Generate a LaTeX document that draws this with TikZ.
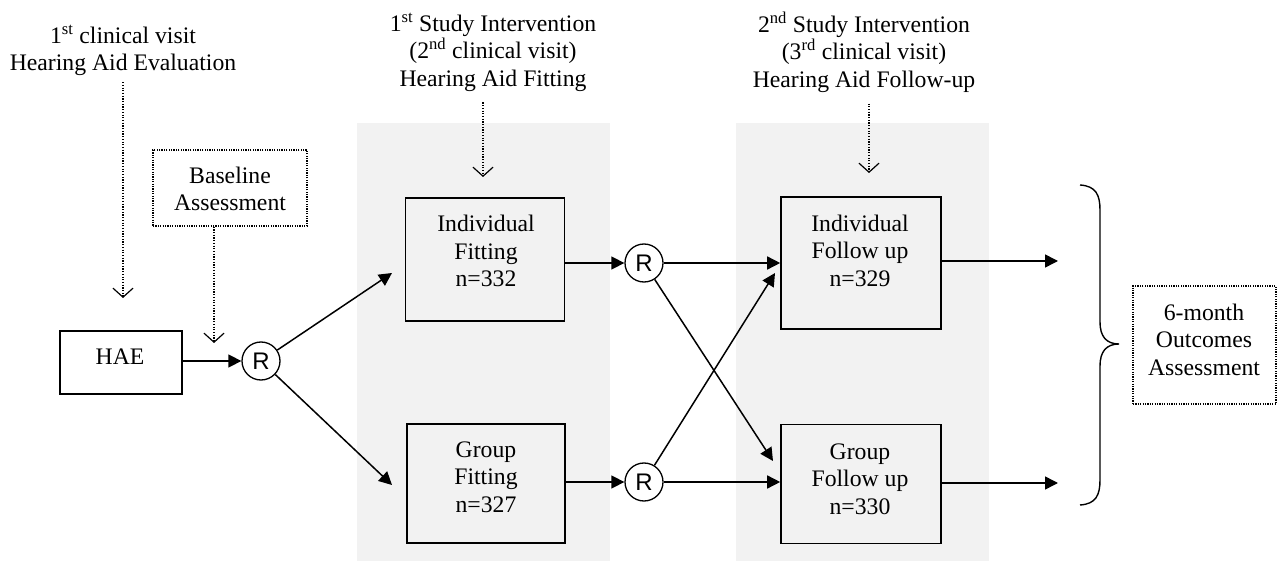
\documentclass[tikz,border=0pt]{standalone}
\usepackage{fontspec}
\setmainfont{Liberation Serif}
\newfontfamily\rfont{Liberation Sans}
\usetikzlibrary{arrows.meta,calc}
\tikzset{
  txt/.style={align=center,inner sep=0pt,font=\fontsize{23.7}{27.5}\selectfont},
  boxnode/.style={draw,line width=1.6pt,inner sep=0pt},
  dotbox/.style={draw,line width=1.3pt,dash pattern=on 1.2pt off 1.2pt,inner sep=0pt},
  rnode/.style={circle,draw,line width=1.3pt,minimum size=38pt,inner sep=0pt,font=\rfont\fontsize{24}{24}\selectfont},
  arr/.style={line width=1.5pt,-{Triangle[length=13pt,width=13pt]}},
  dotarr/.style={line width=1.2pt,dash pattern=on 1.2pt off 1.5pt,-{Straight Barb[length=9pt,width=20pt,line width=1.2pt]}},
  panel/.style={fill=gray!10,draw=none}
}
\begin{document}
\begin{tikzpicture}[x=1pt,y=-1pt]
\useasboundingbox (0,0) rectangle (1278,561);
% shaded panels
\fill[panel] (357,123) rectangle (610,561);
\fill[panel] (736,123) rectangle (989,561);

% top texts
\node[txt] (t1) at (123,50.5) {1\textsuperscript{st} clinical visit\\Hearing Aid Evaluation};
\node[txt] (t2) at (493,52) {1\textsuperscript{st} Study Intervention\\(2\textsuperscript{nd} clinical visit)\\Hearing Aid Fitting};
\node[txt] (t3) at (864,52) {2\textsuperscript{nd} Study Intervention\\(3\textsuperscript{rd} clinical visit)\\Hearing Aid Follow-up};

% boxes
\node[boxnode,minimum width=122pt,minimum height=63pt] (hae) at (121,362.5) {};
\node[txt] (haet) at (120,357) {HAE};
\node[dotbox,minimum width=154pt,minimum height=76pt] (base) at (230,188) {};
\node[txt] (baset) at (230,189) {Baseline\\Assessment};
\node[boxnode,minimum width=159pt,minimum height=123pt] (if) at (485,259.5) {};
\node[txt] (ift) at (486,251) {Individual\\Fitting\\n=332};
\node[boxnode,minimum width=158pt,minimum height=119pt] (gf) at (486,483.5) {};
\node[txt] (gft) at (486,477) {Group\\Fitting\\n=327};
\node[boxnode,minimum width=160pt,minimum height=132pt] (ifu) at (861,263) {};
\node[txt] (ifut) at (860,250.5) {Individual\\Follow up\\n=329};
\node[boxnode,minimum width=160pt,minimum height=119pt] (gfu) at (861,484) {};
\node[txt] (gfut) at (860,479) {Group\\Follow up\\n=330};
\node[dotbox,minimum width=143pt,minimum height=118pt] (out) at (1204.5,345) {};
\node[txt] (outt) at (1204,339.5) {6-month\\Outcomes\\Assessment};

% R nodes
\node[rnode] (r0) at (261,361) {R};
\node[rnode] (r1) at (644,263) {R};
\node[rnode] (r2) at (644,482) {R};

% free ends
\coordinate (c1) at (123,298);
\coordinate (c2) at (214,343);
\coordinate (c3) at (483,177);
\coordinate (c4) at (869,173);
\coordinate (a1) at (392,273);
\coordinate (a2) at (392,485);
\coordinate (x1) at (773,461);
\coordinate (x2) at (775,273);
\coordinate (o1) at (1058,261);
\coordinate (o2) at (1058,483);

% dotted arrows
\draw[dotarr] ($(t1.south)+(0,6)$) -- (c1);
\draw[dotarr] (base.south -| c2) -- (c2);
\draw[dotarr] ($(t2.south)+(-10,11)$) -- (c3);
\draw[dotarr] ($(t3.south)+(5,11)$) -- (c4);

% solid arrows
\draw[arr] (hae.east |- r0) -- (r0);
\draw[arr] (r0) -- (a1);
\draw[arr] (r0) -- (a2);
\draw[arr] (if.east |- r1) -- (r1);
\draw[arr] (gf.east |- r2) -- (r2);
\draw[arr] (r1) -- (r1 -| ifu.west);
\draw[arr] (r2) -- (r2 -| gfu.west);
\draw[arr] (r1) -- (x1);
\draw[arr] (r2) -- (x2);
\draw[arr] (ifu.east |- o1) -- (o1);
\draw[arr] (gfu.east |- o2) -- (o2);

% brace
\draw[line width=1.4pt] (1080,185) .. controls (1096,186) and (1100,195) .. (1100,210)
  -- (1100,322) .. controls (1100,336) and (1106,344) .. (1119,344)
  .. controls (1106,344) and (1100,352) .. (1100,366)
  -- (1100,480) .. controls (1100,495) and (1096,504) .. (1080,505);
\end{tikzpicture}
\end{document}
